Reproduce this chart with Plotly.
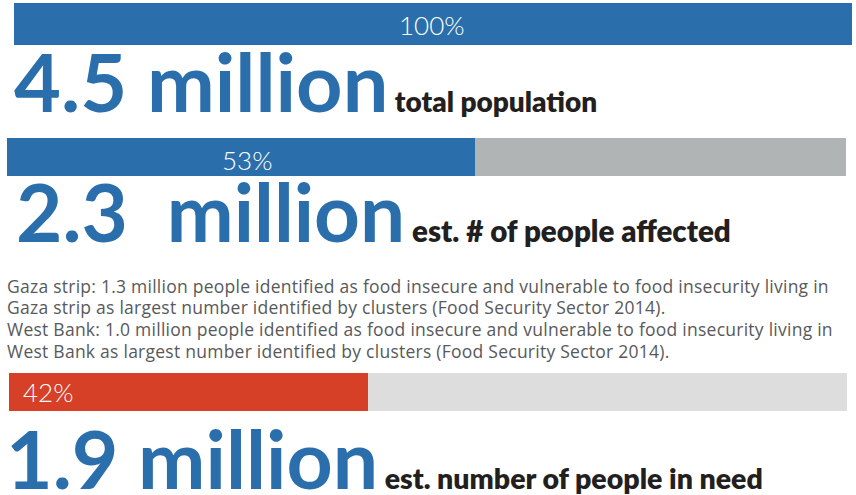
import plotly.graph_objects as go

# ---- data ----
categories = ["total population", "est. # of people affected", "est. number of people in need"]
headlines = ["4.5 million", "2.3\u00a0\u00a0million", "1.9 million"]
pct_labels = ["100%", "53%", "42%"]
bar_share = [100, 55.8, 42.8]          # filled length of each bar, % of track (as drawn)
note_lines = [
    "Gaza strip: 1.3 million people identified as food insecure and vulnerable to food insecurity living in",
    "Gaza strip as largest number identified by clusters (Food Security Sector 2014).",
    "West Bank: 1.0 million people identified as food insecure and vulnerable to food insecurity living in",
    "West Bank as largest number identified by clusters (Food Security Sector 2014).",
]

# ---- layout / style constants ----
W, H = 856, 495
BLUE = "#2a6fab"
fill_colors = [BLUE, BLUE, "#d64027"]
track_colors = [BLUE, "#b1b4b5", "#dddddd"]
bar_x = [(14, 852), (7, 846), (9, 847)]     # pixel extent of each track
bar_yc = [24, 157, 392]                      # pixel centre of each bar
bar_h = [42, 38, 38]
pct_pos = [(432, 25, "center"), (247, 160, "center"), (21, 392, "left")]
head_pos = [(12, 131), (14, 261), (4, 508)]
head_size = [81, 80, 80.5]
label_size = [28, 29.5, 28.5]
note_x = 5
note_y = [286, 307, 329, 351]

fig = go.Figure()
axis_names = ["x", "x2", "x3"]
for i in range(3):
    fig.add_trace(go.Bar(
        x=[100], y=[bar_yc[i]], width=[bar_h[i]], orientation="h",
        marker=dict(color=track_colors[i], line=dict(width=0)),
        xaxis=axis_names[i], yaxis="y", hoverinfo="skip", showlegend=False))
    fig.add_trace(go.Bar(
        x=[bar_share[i]], y=[bar_yc[i]], width=[bar_h[i]], orientation="h",
        marker=dict(color=fill_colors[i], line=dict(width=0)),
        xaxis=axis_names[i], yaxis="y", hoverinfo="skip", showlegend=False))

layout_axes = {}
for i in range(3):
    key = "xaxis" if i == 0 else f"xaxis{i+1}"
    layout_axes[key] = dict(range=[0, 100], domain=[bar_x[i][0] / W, bar_x[i][1] / W],
                            visible=False, anchor="y", fixedrange=True)


def px2paper(x, y):
    return x / W, 1 - y / H


annotations = []
for i in range(3):
    px, py, al = pct_pos[i]
    ax, ay = px2paper(px, py)
    annotations.append(dict(
        x=ax, xref="paper", y=ay, yref="paper", text=pct_labels[i],
        xanchor=al, yanchor="middle", showarrow=False,
        font=dict(family="Lato", size=26, color="white", weight=300)))
    hx, hy = px2paper(*head_pos[i])
    txt = (f"{headlines[i]}"
           f"<span style='font-size:{label_size[i]}px;font-weight:800;fill:#231f20'>"
           f"\u00a0{categories[i]}</span>")
    annotations.append(dict(
        x=hx, xref="paper", y=hy, yref="paper", text=txt,
        xanchor="left", yanchor="bottom", showarrow=False,
        font=dict(family="Lato", size=head_size[i], color=BLUE, weight=700)))

for j, line in enumerate(note_lines):
    nx, ny = px2paper(note_x, note_y[j])
    annotations.append(dict(
        x=nx, xref="paper", y=ny, yref="paper",
        text=f"<span style='letter-spacing:0.25px'>{line}</span>", align="left",
        xanchor="left", yanchor="middle", showarrow=False,
        font=dict(family="Open Sans", size=17.5, color="#58595b")))

fig.update_layout(
    width=W, height=H, margin=dict(l=0, r=0, t=0, b=0),
    paper_bgcolor="white", plot_bgcolor="rgba(0,0,0,0)",
    barmode="overlay", bargap=0,
    yaxis=dict(range=[H, 0], domain=[0, 1], visible=False, fixedrange=True),
    annotations=annotations,
    **layout_axes,
)

fig.write_html("out.html", config={"displayModeBar": False},
               post_script="document.body.style.margin='0';")
